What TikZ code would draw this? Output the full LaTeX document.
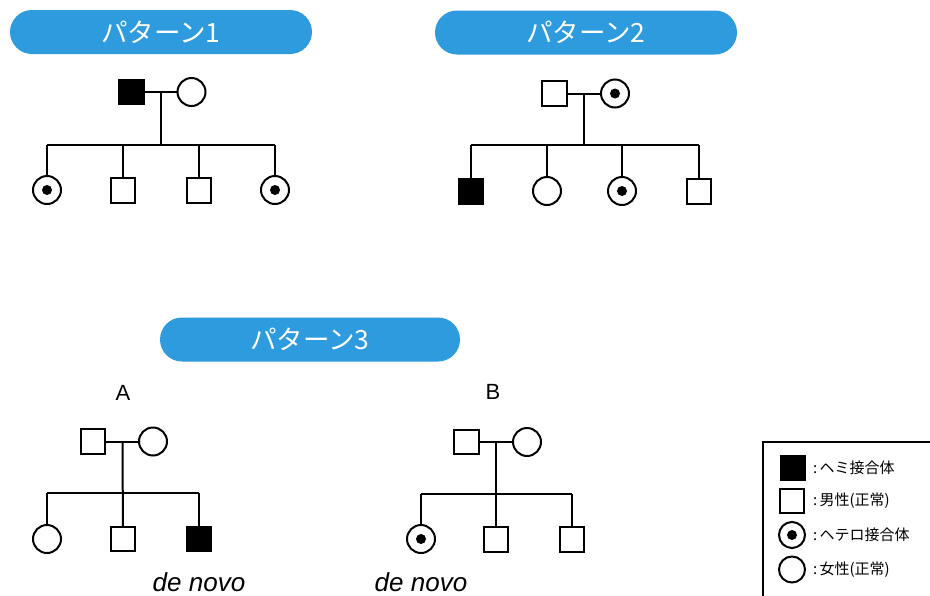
\documentclass[tikz,border=0pt]{standalone}
\usepackage{fontspec}
\setmainfont{Liberation Sans}
\newfontfamily\jp{Noto Sans CJK JP}
\definecolor{bannerblue}{RGB}{45,155,222}
\begin{document}
\begin{tikzpicture}[x=1pt,y=-1pt,
  line width=2pt,
  male/.style={draw, rectangle, minimum size=24.5pt, inner sep=0pt, fill=white},
  hemi/.style={draw, rectangle, minimum size=24.5pt, inner sep=0pt, fill=black},
  female/.style={draw, circle, minimum size=28pt, inner sep=0pt, fill=white},
  hetero/.style={female, path picture={\fill[black] (path picture bounding box.center) circle (5pt);}},
  banner/.style={fill=bannerblue, rounded corners=22pt, minimum height=44pt, inner sep=0pt, text=white, font=\jp\fontsize{26.5}{27}\selectfont},
  lbl/.style={font=\fontsize{22}{22}\selectfont, inner sep=0pt},
  denovo/.style={font=\itshape\fontsize{26}{27}\selectfont, inner sep=0pt},
  legtext/.style={anchor=west, inner sep=0pt, font=\jp\fontsize{15}{16}\selectfont},
  lsmall/.style={minimum size=24pt},
  lcirc/.style={minimum size=26pt}
]
\useasboundingbox (0,0) rectangle (930,595);
\clip (0,0) rectangle (930,595);
\fill[white] (0,0) rectangle (930,595);

% Banners
\node[banner, minimum width=302pt] (b1) at (161,32) {パターン1};
\node[banner, minimum width=302pt] (b2) at (586,32.5) {パターン2};
\node[banner, minimum width=300pt] (b3) at (310,339.5) {パターン3};

% Pattern 1
\node[hemi] (f1) at (131.5,92) {};
\node[female] (m1) at (191.5,92) {};
\coordinate (p1) at (160.5,92);
\coordinate (s1) at (160.5,145);
\coordinate (s1l) at (47,145);
\coordinate (s1r) at (275,145);
\node[hetero] (c11) at (47,190) {};
\node[male] (c12) at (123,190.5) {};
\node[male] (c13) at (199,190.5) {};
\node[hetero] (c14) at (275,190) {};
\draw (f1) -- (m1);
\draw (p1) -- (s1);
\draw (s1l) -- (s1r);
\draw (s1l) -- (c11);
\draw (c12 |- s1) -- (c12);
\draw (c13 |- s1) -- (c13);
\draw (s1r) -- (c14);

% Pattern 2
\node[male] (f2) at (554.5,93.5) {};
\node[hetero] (m2) at (615,93.5) {};
\coordinate (p2) at (584,93.5);
\coordinate (s2) at (584,145);
\coordinate (s2l) at (471,145);
\coordinate (s2r) at (699,145);
\node[hemi] (c21) at (471,191.5) {};
\node[female] (c22) at (547,191) {};
\node[hetero] (c23) at (622,191) {};
\node[male] (c24) at (699,191.5) {};
\draw (f2) -- (m2);
\draw (p2) -- (s2);
\draw (s2l) -- (s2r);
\draw (s2l) -- (c21);
\draw (c22 |- s2) -- (c22);
\draw (c23 |- s2) -- (c23);
\draw (s2r) -- (c24);

% Pattern 3 A
\node[lbl] (la) at (123,393) {A};
\node[male] (f3) at (93,441.5) {};
\node[female] (m3) at (153,441.5) {};
\coordinate (p3) at (122.5,441.5);
\coordinate (s3) at (122.5,493);
\coordinate (s3l) at (47,493);
\coordinate (s3r) at (199,493);
\node[female] (c31) at (47,539) {};
\node[male] (c32) at (123,539) {};
\node[hemi] (c33) at (199,539) {};
\draw (f3) -- (m3);
\draw (p3) -- (c32);
\draw (s3l) -- (s3r);
\draw (s3l) -- (c31);
\draw (s3r) -- (c33);
\node[denovo] (d3) at (199,582) {de novo};

% Pattern 3 B
\node[lbl] (lb) at (493,392) {B};
\node[male] (f4) at (466.5,442) {};
\node[female] (m4) at (527,442) {};
\coordinate (p4) at (496,442);
\coordinate (s4) at (496,494);
\coordinate (s4l) at (421,494);
\coordinate (s4r) at (572,494);
\node[hetero] (c41) at (421,539) {};
\node[male] (c42) at (496,539.5) {};
\node[male] (c43) at (572,539.5) {};
\draw (f4) -- (m4);
\draw (p4) -- (c42);
\draw (s4l) -- (s4r);
\draw (s4l) -- (c41);
\draw (s4r) -- (c43);
\node[denovo] (d4) at (421,582) {de novo};

% Legend
\draw[line width=1.2pt] (763,442) rectangle (945,610);
\node[hemi, lsmall] (k1) at (792.5,468) {};
\node[male, lsmall] (k2) at (792,501) {};
\node[hetero, lcirc] (k3) at (792,535) {};
\node[female, lcirc] (k4) at (792,569.5) {};
\node[legtext] (t1) at (812,468) {:\,ヘミ接合体};
\node[legtext] (t2) at (812,501) {:\,男性(正常)};
\node[legtext] (t3) at (812,535) {:\,ヘテロ接合体};
\node[legtext] (t4) at (812,569.5) {:\,女性(正常)};
\end{tikzpicture}
\end{document}
